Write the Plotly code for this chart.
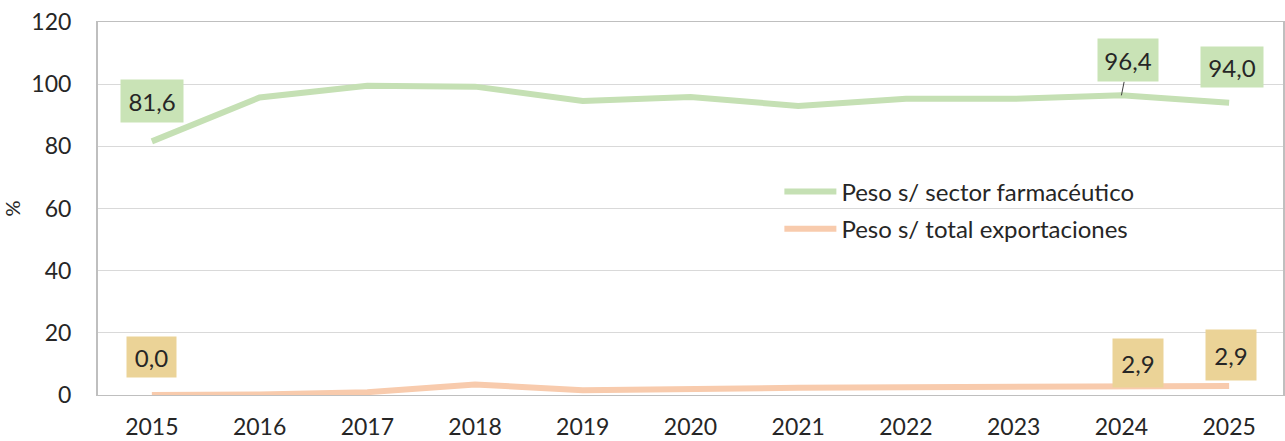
import plotly.graph_objects as go

years = ["2015", "2016", "2017", "2018", "2019", "2020", "2021", "2022", "2023", "2024", "2025"]
peso_farma = [81.6, 95.7, 99.5, 99.2, 94.6, 95.9, 93.0, 95.3, 95.3, 96.4, 94.0]
peso_total = [0.0, 0.2, 0.9, 3.4, 1.5, 2.0, 2.3, 2.5, 2.7, 2.9, 2.9]
name_farma = "Peso s/ sector farmacéutico"
name_total = "Peso s/ total exportaciones"

def fmt(v):
    return f"{v:.1f}".replace(".", ",")

FONT = "Lato"
TXT = "#262626"
GREEN = "#c5e0b4"
ORANGE = "#f8cbad"

fig = go.Figure()
fig.add_trace(go.Scatter(x=years, y=peso_farma, mode="lines", name=name_farma,
                         line=dict(color=GREEN, width=6), legendgroup="a"))
fig.add_trace(go.Scatter(x=years, y=peso_total, mode="lines", name=name_total,
                         line=dict(color=ORANGE, width=6), legendgroup="b"))

annots = []
def label(i, vals, bg, w, h, xs=0, ys=0, arrow=None):
    d = dict(x=i, y=vals[i], xref="x", yref="y", text=fmt(vals[i]),
             font=dict(family=FONT, size=24, color=TXT), bgcolor=bg,
             width=w, height=h, borderpad=0, align="center")
    if arrow:
        d.update(showarrow=True, arrowhead=0, arrowwidth=1, arrowcolor="#404040",
                 ax=arrow[0], ay=arrow[1], standoff=0)
    else:
        d.update(showarrow=False, xshift=xs, yshift=ys)
    annots.append(d)

LG = "#c9e3b6"
TAN = "#ebd397"
label(0, peso_farma, LG, 62, 42, 0, 40)
label(9, peso_farma, LG, 60, 42, arrow=(7, -35))
label(10, peso_farma, LG, 62, 40, 3, 36)
label(0, peso_total, TAN, 49, 40, 0, 38)
label(9, peso_total, TAN, 50, 48, 17, 23)
label(10, peso_total, TAN, 50, 50, 2, 31)

fig.update_layout(
    width=1285, height=441,
    margin=dict(l=98, r=2, t=22, b=46, autoexpand=False),
    paper_bgcolor="white", plot_bgcolor="white",
    font=dict(family=FONT, size=23, color=TXT),
    showlegend=True,
    annotations=annots,
    legend=dict(x=0.575, y=0.605, xanchor="left", yanchor="top",
                bgcolor="rgba(0,0,0,0)", font=dict(family=FONT, size=24, color=TXT),
                tracegroupgap=3, traceorder="grouped", itemwidth=52),
)
fig.update_xaxes(type="category", range=[-0.5, 10.5], showgrid=False, automargin=False,
                 showline=True, linecolor="#bfbfbf", linewidth=1, mirror=True,
                 ticks="outside", ticklen=11, tickcolor="rgba(0,0,0,0)",
                 tickfont=dict(family=FONT, size=23, color=TXT))
fig.update_yaxes(range=[0, 120], dtick=20, showgrid=True, gridcolor="#d9d9d9", gridwidth=1,
                 automargin=False,
                 showline=True, linecolor="#bfbfbf", linewidth=2, mirror=True,
                 zeroline=True, zerolinecolor="#a6a6a6", zerolinewidth=2,
                 ticks="outside", ticklen=20, tickcolor="rgba(0,0,0,0)",
                 tickfont=dict(family=FONT, size=23, color=TXT),
                 title=dict(text="%", font=dict(family=FONT, size=20, color=TXT), standoff=8))

fig.write_html("out.html", config={"displayModeBar": False},
               post_script="document.body.style.margin='0';")
